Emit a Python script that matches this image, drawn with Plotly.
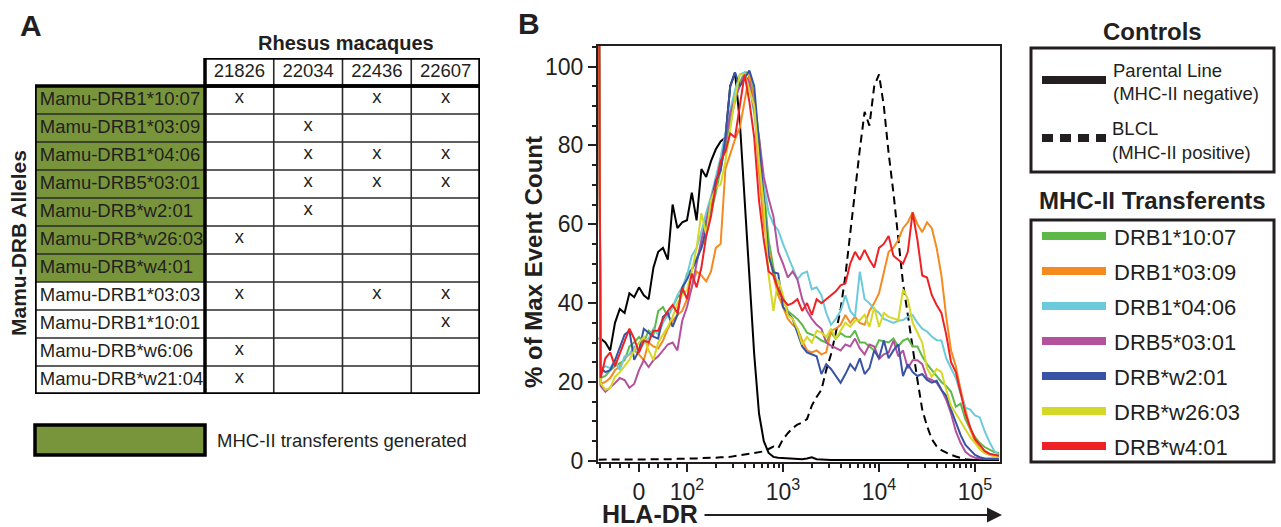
import math
import plotly.graph_objects as go

W, H = 1281, 527
FONT = 'Liberation Sans, Arial, sans-serif'
INK = '#231f20'
GREEN_CELL = '#78953b'

# ---- panel A data ----
monkeys = ['21826', '22034', '22436', '22607']
alleles = ['Mamu-DRB1*10:07', 'Mamu-DRB1*03:09', 'Mamu-DRB1*04:06', 'Mamu-DRB5*03:01',
           'Mamu-DRB*w2:01', 'Mamu-DRB*w26:03', 'Mamu-DRB*w4:01', 'Mamu-DRB1*03:03',
           'Mamu-DRB1*10:01', 'Mamu-DRB*w6:06', 'Mamu-DRB*w21:04']
generated = [1, 1, 1, 1, 1, 1, 1, 0, 0, 0, 0]
presence = [
    [1, 0, 1, 1],
    [0, 1, 0, 0],
    [0, 1, 1, 1],
    [0, 1, 1, 1],
    [0, 1, 0, 0],
    [1, 0, 0, 0],
    [0, 0, 0, 0],
    [1, 0, 1, 1],
    [0, 0, 0, 1],
    [1, 0, 0, 0],
    [1, 0, 0, 0],
]

# ---- panel B data (x in display decades: 0 -> 1.5, 10^2 -> 2, 10^3 -> 3 ...) ----
hla_dr = [1.08,
          1.10, 1.15, 1.20, 1.25, 1.30, 1.35, 1.40, 1.45, 1.50, 1.55,
          1.60, 1.65, 1.70, 1.75, 1.80, 1.85, 1.90, 1.95, 2.00, 2.05,
          2.10, 2.15, 2.20, 2.25, 2.30, 2.35, 2.40, 2.45, 2.50, 2.55,
          2.60, 2.65, 2.70, 2.75, 2.80, 2.85, 2.90, 2.95, 3.00, 3.05,
          3.10, 3.15, 3.20, 3.25, 3.30, 3.35, 3.40, 3.45, 3.50, 3.55,
          3.60, 3.65, 3.70, 3.75, 3.80, 3.85, 3.90, 3.95, 4.00, 4.05,
          4.10, 4.15, 4.20, 4.25, 4.30, 4.35, 4.40, 4.45, 4.50, 4.55,
          4.60, 4.65, 4.70, 4.75, 4.80, 4.85, 4.90, 4.95, 5.00, 5.05,
          5.10, 5.15, 5.20, 5.25]

parental = [31,
            31, 30, 28, 35, 38.5, 37.5, 42.5, 41.5, 44, 42,
            41, 49, 53, 54, 51, 65, 59, 60.5, 61, 68,
            61, 74, 72, 76, 79, 81, 82, 95, 98.5, 86,
            67, 47, 27, 12, 5, 2, 1, 0.8, 0.7, 0.6,
            0.5, 0.4, 0.4, 0.6, 0.9, 0.4, 0.3, 0.3, 0.2, 0.2,
            0.2, 0.2, 0.2, 0.2, 0.2, 0.2, 0.2, 0.2, 0.2, 0.2,
            0.2, 0.2, 0.2, 0.2, 0.2, 0.2, 0.2, 0.2, 0.2, 0.2,
            0.2, 0.2, 0.2, 0.2, 0.2, 0.2, 0.2, 0.2, 0.2, 0.2,
            0.2, 0.2, 0.2, 0.2]

blcl = [0.3,
        0.3, 0.3, 0.3, 0.3, 0.3, 0.3, 0.3, 0.3, 0.3, 0.3,
        0.3, 0.3, 0.4, 0.4, 0.4, 0.4, 0.5, 0.5, 0.5, 0.6,
        0.6, 0.7, 0.7, 0.8, 0.8, 0.9, 0.9, 1.0, 1.2, 1.4,
        1.5, 1.7, 1.9, 2.1, 2.4, 3.0, 3.6, 3.2, 5.5, 7.0,
        8.3, 9.2, 9.7, 10.6, 14, 16.2, 18, 23, 27, 32.5,
        38.5, 47, 58, 68, 79, 88.5, 85, 95, 98, 90,
        78, 68, 57, 45, 37, 28.5, 20.5, 13, 8.8, 5.5,
        3.7, 2.7, 2, 1.5, 1.1, 0.7, 0.4, 0.3, 0.3, 0.3,
        0.3, 0.3, 0.3, 0.3]

drb1_1007 = [140,
             21, 21.5, 23, 24, 24.8, 25.5, 29, 30, 31.4, 30,
             33, 32, 38, 39, 36.5, 39, 41.5, 42.5, 47.5, 48.5,
             51.5, 54, 57, 63, 68, 74, 80, 86, 91, 96,
             98.5, 98.5, 92, 82, 69, 56, 49, 43, 41, 38,
             37, 36, 34.5, 32.5, 32, 31.4, 30.5, 30, 32.5, 31,
             32.4, 31.5, 31.4, 33, 30, 30, 29, 28, 30.6, 30.3,
             30, 31, 29, 30.5, 31, 29, 29, 26.5, 24.5, 23,
             21.5, 20, 19, 17.5, 13.7, 14.5, 10.5, 8, 6, 4.5,
             3.5, 2.8, 2.2, 2]

drb1_0309 = [140,
             19.5, 20, 21, 23, 24, 26, 27, 28, 27, 25.5,
             30, 29, 28.5, 30.5, 33.5, 35.5, 37, 38, 41, 44,
             48, 47, 45.5, 48, 54, 55, 74, 78, 81.5, 84.5,
             91, 98, 90, 73, 60, 53, 47, 42, 39, 36,
             34.5, 33.5, 30.5, 28, 27.5, 28, 27, 27.5, 33, 33.5,
             34.5, 37, 35, 36.5, 35, 34.5, 38, 40, 42.5, 48,
             53, 54, 56, 59, 60.5, 63, 60, 58, 60.5, 59,
             54, 47, 36.5, 28, 24, 18, 13, 8, 5, 3,
             2, 1.5, 1.3, 1.2]

drb1_0406 = [140,
             23, 24, 23.5, 25.5, 23, 26.5, 27, 29, 27.5, 30,
             31, 33.5, 32, 35, 37, 39, 42, 44, 47, 52,
             54, 58, 63, 67, 72, 77, 83, 89, 94, 98,
             98.5, 95, 88, 78, 70, 63, 60, 58.5, 55, 52,
             49, 46, 47.5, 48, 43.5, 44, 42, 37.5, 34.5, 36,
             38, 42, 38, 36.5, 48, 41, 40, 38.5, 37.5, 36,
             35.5, 35, 35.5, 35.7, 36.5, 37, 35, 33.5, 32.8, 31.5,
             30.6, 30.5, 26, 23.5, 21, 17, 13.5, 13, 11.5, 11,
             7.5, 4.8, 2.5, 1.5]

drb5_0301 = [140,
             19, 17.5, 18.5, 19.7, 21, 20.5, 18.5, 19.5, 23, 25.5,
             23.8, 25.5, 26.5, 28, 29.5, 30, 28, 35.5, 39, 44,
             50, 56, 61, 66, 71, 74, 81, 88, 92, 95,
             98, 96, 89, 82, 72, 66.5, 62, 53, 50, 46.5,
             48, 46, 41, 38, 36, 34.5, 33.5, 30, 29.2, 28.5,
             28, 29.5, 29, 31, 28.5, 27, 29.5, 29, 25.8, 27,
             27.5, 30.5, 26.5, 28, 23.5, 25.5, 25.5, 24.5, 21, 20.5,
             19.8, 18, 15.5, 12, 7.5, 4.5, 2.3, 1.3, 0.8, 0.6,
             0.5, 0.5, 0.5, 0.5]

drb_w201 = [140,
            23.5, 22.5, 23, 25.5, 29, 32, 33, 25.6, 28, 33.5,
            32.5, 31.5, 31, 36.5, 37.5, 34, 37, 44, 46, 48.5,
            51, 54, 59, 65, 71, 73.5, 82, 95, 98.5, 95,
            97, 99, 95, 80, 66, 52, 47.8, 47.5, 39, 37.5,
            36, 32.5, 29, 27.5, 27, 26.5, 22, 24.5, 23.3, 21.5,
            19.8, 22, 24.5, 23, 26, 22, 23.5, 28, 26, 30.5,
            26, 28, 29.5, 21.5, 24.5, 22.5, 21.5, 22, 20.5, 19.8,
            20.3, 18, 16.5, 13, 9.5, 6.5, 4, 2.8, 1.5, 0.9,
            0.6, 0.5, 0.5, 0.5]

drb_w2603 = [140,
             19.7, 18, 18.5, 21.3, 22.5, 24, 25.6, 28, 30, 31.4,
             28, 25.6, 30, 32, 34, 36.5, 40, 42, 43.3, 48,
             54, 62.8, 57.5, 66, 69.4, 70, 76, 84, 92, 98,
             98, 94, 90, 76, 65, 47, 38, 46, 42, 37,
             36, 33.5, 29.5, 31.4, 30, 33, 32.5, 31.4, 33.5, 31,
             33, 35, 34, 35.5, 35.7, 37, 34, 39, 34, 37.5,
             36.5, 36, 35.7, 43.5, 41, 35, 32.5, 30, 23.5, 21.3,
             23.3, 22.5, 18, 14, 12, 10, 7.8, 6, 4.5, 3,
             2, 1.6, 1.2, 1]

drb_w401 = [140,
            21, 26, 27.5, 24, 27, 30, 33.5, 31, 27.5, 30.5,
            30, 33, 33, 36, 38, 39.5, 37.5, 44, 41, 47.5,
            44, 49, 57, 62, 70, 76, 78.5, 83, 82, 90,
            98, 91, 82, 66, 56, 48, 47, 43.5, 41, 39.5,
            40, 41, 38, 40, 37, 41, 40, 41, 42, 43,
            44.5, 45, 50, 53, 51, 53.5, 51, 49, 54, 55,
            57, 52, 51, 50, 53, 63, 56, 47, 46.5, 42,
            39.5, 37.5, 32, 25, 22.5, 17, 12, 8.5, 5.5, 4,
            2.5, 1.8, 1.5, 1.3]

controls = [('Parental Line', '(MHC-II negative)', parental, 'solid'),
            ('BLCL', '(MHC-II positive)', blcl, 'dash')]
transferents = [('DRB1*10:07', drb1_1007, '#5db848'),
                ('DRB1*03:09', drb1_0309, '#f58a1f'),
                ('DRB1*04:06', drb1_0406, '#6ccbda'),
                ('DRB5*03:01', drb5_0301, '#b4519c'),
                ('DRB*w2:01', drb_w201, '#3953a4'),
                ('DRB*w26:03', drb_w2603, '#d5d826'),
                ('DRB*w4:01', drb_w401, '#ee2225')]

x_tick_pos = [1.5, 2, 3, 4, 5]
x_tick_text = ['0', '10<sup>2</sup>', '10<sup>3</sup>', '10<sup>4</sup>', '10<sup>5</sup>']


def px(x):
    return x / W


def py(y):
    return 1 - y / H


fig = go.Figure()

# histogram curves
for name, sub, vals, dash in controls:
    fig.add_trace(go.Scatter(x=hla_dr, y=vals, mode='lines', name=name,
                             line=dict(color='black', width=2,
                                       dash='8px,5px' if dash == 'dash' else 'solid')))
for name, vals, color in transferents:
    fig.add_trace(go.Scatter(x=hla_dr, y=vals, mode='lines', name=name,
                             line=dict(color=color, width=2)))

# table text on its own axes
LABEL_W = 170 / 68.75
tx, ty, tt = [], [], []
for j, m in enumerate(monkeys):
    tx.append(j + 0.5)
    ty.append(-0.5)
    tt.append(m)
for i, a in enumerate(alleles):
    for j in range(len(monkeys)):
        if presence[i][j]:
            tx.append(j + 0.5)
            ty.append(i + 0.45)
            tt.append('x')
fig.add_trace(go.Scatter(x=tx, y=ty, text=tt, mode='text', textposition='middle center',
                         textfont=dict(size=18.5, color=INK, family=FONT),
                         xaxis='x2', yaxis='y2', cliponaxis=False))
fig.add_trace(go.Scatter(x=[-LABEL_W + 0.07] * len(alleles),
                         y=[i + 0.5 for i in range(len(alleles))],
                         text=alleles, mode='text', textposition='middle right',
                         textfont=dict(size=18.5, color=INK, family=FONT),
                         xaxis='x2', yaxis='y2', cliponaxis=False))

shapes = []
for i, g in enumerate(generated):
    if g:
        shapes.append(dict(type='rect', xref='x2', yref='y2', x0=-LABEL_W, x1=0,
                           y0=i, y1=i + 1, fillcolor=GREEN_CELL, line=dict(width=0),
                           layer='below'))
for i in range(1, len(alleles)):
    shapes.append(dict(type='line', xref='x2', yref='y2', x0=-LABEL_W, x1=4, y0=i, y1=i,
                       line=dict(color='#2a2a2a', width=1.6)))
for j in range(1, len(monkeys)):
    shapes.append(dict(type='line', xref='x2', yref='y2', x0=j, x1=j, y0=-1, y1=len(alleles),
                       line=dict(color='#2a2a2a', width=1.6)))
shapes.append(dict(type='rect', xref='x2', yref='y2', x0=0, x1=4, y0=-1, y1=0,
                   line=dict(color='black', width=3.5)))
shapes.append(dict(type='rect', xref='x2', yref='y2', x0=-LABEL_W, x1=4, y0=0,
                   y1=len(alleles), line=dict(color='black', width=3.5)))
shapes.append(dict(type='line', xref='x2', yref='y2', x0=0, x1=0, y0=0, y1=len(alleles),
                   line=dict(color='black', width=3.5)))

# green key box of panel A
shapes.append(dict(type='rect', xref='paper', yref='paper', x0=px(35), x1=px(205),
                   y0=py(455), y1=py(425), fillcolor=GREEN_CELL,
                   line=dict(color='black', width=3.5)))

# legend boxes of panel B
shapes.append(dict(type='rect', xref='paper', yref='paper', x0=px(1031), x1=px(1274),
                   y0=py(172), y1=py(48), line=dict(color=INK, width=3)))
shapes.append(dict(type='rect', xref='paper', yref='paper', x0=px(1031), x1=px(1274),
                   y0=py(462), y1=py(220), line=dict(color=INK, width=3)))
shapes.append(dict(type='line', xref='paper', yref='paper', x0=px(1042), x1=px(1106),
                   y0=py(80), y1=py(80), line=dict(color=INK, width=8)))
shapes.append(dict(type='line', xref='paper', yref='paper', x0=px(1042), x1=px(1106),
                   y0=py(138), y1=py(138), line=dict(color=INK, width=8, dash='11px,7px')))
for k, (name, vals, color) in enumerate(transferents):
    yy = 236 + 35 * k
    shapes.append(dict(type='line', xref='paper', yref='paper', x0=px(1042), x1=px(1106),
                       y0=py(yy), y1=py(yy), line=dict(color=color, width=8)))

ann = []


def text(x, y, s, size, bold=False, anchor='center', angle=0):
    ann.append(dict(x=px(x), y=py(y), xref='paper', yref='paper', showarrow=False,
                    text='<b>%s</b>' % s if bold else s, xanchor=anchor, yanchor='middle',
                    textangle=angle, font=dict(size=size, color=INK, family=FONT)))


text(31, 25, 'A', 30, True)
text(529, 24, 'B', 30, True)
text(346, 43, 'Rhesus macaques', 20, True)
text(18, 243, 'Mamu-DRB Alleles', 21, True, angle=-90)
text(215, 440, 'MHC-II transferents generated', 18.5, anchor='left')
text(534, 262, '% of Max Event Count', 24, True, angle=-90)
text(600, 514, 'HLA-DR', 25, True, anchor='left')
text(1152, 32, 'Controls', 24, True)
text(1152, 200, 'MHC-II Transferents', 24, True)
text(1111, 70, controls[0][0], 18.5, anchor='left')
text(1111, 94, controls[0][1], 18.5, anchor='left')
text(1110, 129, controls[1][0], 18.5, anchor='left')
text(1110, 153, controls[1][1], 18.5, anchor='left')
for k, (name, vals, color) in enumerate(transferents):
    text(1112, 237 + 35 * k, name, 22, anchor='left')

ann.append(dict(x=px(1002), y=py(515), ax=703 - 1002, ay=0, xref='paper', yref='paper',
                axref='pixel', ayref='pixel', text='', showarrow=True, arrowhead=2,
                arrowwidth=2, arrowsize=1.5, arrowcolor=INK, standoff=0))

# minor ticks of the biexponential axis
minor_x = [1.09, 1.2, 1.3, 1.4, 1.6, 1.7, 1.8, 1.9]
for dec in [2, 3, 4]:
    for m in range(2, 10):
        minor_x.append(dec + math.log10(m))
minor_x.append(5 + math.log10(2))

fig.update_layout(
    width=W, height=H, autosize=False,
    margin=dict(l=0, r=0, t=0, b=0, autoexpand=False),
    paper_bgcolor='white', plot_bgcolor='white',
    showlegend=False,
    font=dict(family=FONT, color=INK),
    shapes=shapes,
    annotations=ann,
    xaxis=dict(domain=[px(598), px(1000)], range=[1.073, 5.26], automargin=False,
               tickmode='array', tickvals=x_tick_pos, ticktext=x_tick_text,
               ticks='outside', ticklen=8, tickwidth=2, tickcolor=INK,
               tickfont=dict(size=23, color=INK, family=FONT),
               showline=True, linewidth=2, linecolor=INK, mirror=True,
               showgrid=False, zeroline=False,
               minor=dict(tickmode='array', tickvals=minor_x, ticks='outside',
                          ticklen=4, tickwidth=1.5, tickcolor=INK)),
    yaxis=dict(domain=[py(462), py(46)], range=[-0.3, 105.2], automargin=False,
               tickmode='array', tickvals=[0, 20, 40, 60, 80, 100],
               ticks='outside', ticklen=8, tickwidth=2, tickcolor=INK,
               tickfont=dict(size=23, color=INK, family=FONT),
               showline=True, linewidth=2, linecolor=INK, mirror=True,
               showgrid=False, zeroline=False,
               minor=dict(dtick=5, ticks='outside', ticklen=4, tickwidth=1.5,
                          tickcolor=INK)),
    xaxis2=dict(domain=[px(35), px(480)], range=[-LABEL_W, 4], anchor='y2',
                visible=False, fixedrange=True, automargin=False),
    yaxis2=dict(domain=[py(394), py(58)], range=[len(alleles), -1], anchor='x2',
                visible=False, fixedrange=True, automargin=False),
)

# page margin off so the 1281x527 figure fills the window exactly
fig.write_html('out.html', config={'displayModeBar': False},
               post_script="document.body.style.margin='0px';"
                           "document.documentElement.style.overflow='hidden';")
